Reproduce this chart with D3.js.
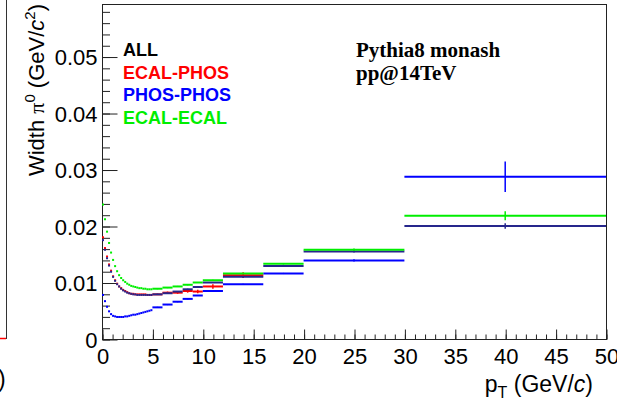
<!DOCTYPE html>
<html lang="en">

<head>
    <meta charset="UTF-8">
    <style>
        body {
            margin: 0;
            background: #fff;
        }

        text {
            font-family: "Liberation Sans", Arial, sans-serif;
        }
    </style>
    <script src="https://cdnjs.cloudflare.com/ajax/libs/d3/7.8.5/d3.min.js"></script>
    <title>pi0 width vs pT</title>
</head>

<body>
    <div id="chart"></div>
    <script>
        // bin edges in pT (GeV/c): 0.2 GeV up to 5, then coarser
        var binEdges = [0, 0.2, 0.4, 0.6, 0.8, 1, 1.2, 1.4, 1.6, 1.8, 2, 2.2, 2.4, 2.6, 2.8, 3,
            3.2, 3.4, 3.6, 3.8, 4, 4.2, 4.4, 4.6, 4.8, 5, 6, 7, 8, 9, 10, 12, 16, 20, 30, 50];

        var seriesNames = ['ALL', 'ECAL-PHOS', 'PHOS-PHOS', 'ECAL-ECAL'];

        // peak width (GeV/c^2) per bin
        var widthAll = [0.0175, 0.0158, 0.0143, 0.0130, 0.0119, 0.0110, 0.0103, 0.0097, 0.0093, 0.0089,
            0.0086, 0.0084, 0.0082, 0.0081, 0.0080, 0.0079, 0.0079, 0.0078, 0.0078, 0.0078,
            0.0078, 0.0078, 0.0078, 0.0078, 0.0078, 0.0079, 0.0081, 0.0084, 0.0088, 0.0092,
            0.0100, 0.0110, 0.0129, 0.0155, 0.0200];
        var widthEcalPhos = [0.0180, 0.0161, 0.0146, 0.0132, 0.0121, 0.0111, 0.0104, 0.0098, 0.0093, 0.0090,
            0.0087, 0.0085, 0.0083, 0.0081, 0.0080, 0.0080, 0.0079, 0.0079, 0.0079, 0.0079,
            0.0079, 0.0079, 0.0078, 0.0078, 0.0078, 0.0079, 0.0082, 0.0082, 0.0085, 0.0084,
            0.0093, 0.0113, null, null, null];
        var widthPhosPhos = [0.0078, 0.0067, 0.0057, 0.0049, 0.0044, 0.0041, 0.0040, 0.0039, 0.0039, 0.0039,
            0.0039, 0.0040, 0.0040, 0.0041, 0.0042, 0.0043, 0.0043, 0.0044, 0.0045, 0.0046,
            0.0047, 0.0048, 0.0049, 0.0050, 0.0051, 0.0056, 0.0061, 0.0066, 0.0071, 0.0077,
            0.0085, 0.0097, 0.0116, 0.0139, 0.0287];
        var widthEcalEcal = [0.0238, 0.0212, 0.0190, 0.0170, 0.0153, 0.0140, 0.0129, 0.0120, 0.0113, 0.0108,
            0.0104, 0.0101, 0.0098, 0.0096, 0.0094, 0.0093, 0.0092, 0.0091, 0.0090, 0.0090,
            0.0089, 0.0089, 0.0088, 0.0088, 0.0088, 0.0089, 0.0091, 0.0093, 0.0096, 0.0100,
            0.0104, 0.0116, 0.0133, 0.0158, 0.0218];

        // statistical errors, only the coarse bins are visible
        var errAll = [0, 0, 0, 0, 0, 0, 0, 0, 0, 0, 0, 0, 0, 0, 0, 0, 0, 0, 0, 0, 0, 0, 0, 0, 0,
            0.0001, 0.0001, 0.0001, 0.0001, 0.0001, 0.0001, 0.0001, 0.0001, 0.0002, 0.0005];
        var errEcalPhos = [0, 0, 0, 0, 0, 0, 0, 0, 0, 0, 0, 0, 0, 0, 0, 0, 0, 0, 0, 0, 0, 0, 0, 0, 0,
            0.0001, 0.0002, 0.0002, 0.0003, 0.0003, 0.0004, 0.0005, 0, 0, 0];
        var errPhosPhos = [0, 0, 0, 0, 0, 0, 0, 0, 0, 0, 0, 0, 0, 0, 0, 0, 0, 0, 0, 0, 0, 0, 0, 0, 0,
            0.0001, 0.0001, 0.0001, 0.0001, 0.0001, 0.0001, 0.0001, 0.0001, 0.0002, 0.0027];
        var errEcalEcal = [0, 0, 0, 0, 0, 0, 0, 0, 0, 0, 0, 0, 0, 0, 0, 0, 0, 0, 0, 0, 0, 0, 0, 0, 0,
            0.0001, 0.0001, 0.0001, 0.0001, 0.0001, 0.0001, 0.0001, 0.0001, 0.0002, 0.0008];

        var seriesColours = ['#26268c', '#ff0000', '#0000ff', '#00ee00'];
        var legendColours = ['#000000', '#ff0000', '#0000ff', '#00ee00'];
        // ECAL-PHOS, PHOS-PHOS, ALL, ECAL-ECAL
        var drawOrder = [1, 2, 0, 3];

        var xMajor = [0, 5, 10, 15, 20, 25, 30, 35, 40, 45, 50];
        var yMajor = [0, 0.01, 0.02, 0.03, 0.04, 0.05];
        var yLabels = ['0', '0.01', '0.02', '0.03', '0.04', '0.05'];

        function drawChart() {
            var width = 617,
                height = 407,
                padLeft = 102,
                padRight = 606,
                padTop = 4,
                padBottom = 339;

            var x = d3.scaleLinear().domain([0, 50]).range([padLeft, padRight]);
            var y = d3.scaleLinear().domain([0, 0.0593]).range([padBottom, padTop]);

            var svg = d3.select('#chart')
                .append('svg')
                .attr('width', width)
                .attr('height', height);

            // neighbouring pad, only its edge shows
            svg.append('line')
                .attr('x1', 6.5).attr('x2', 6.5)
                .attr('y1', 0).attr('y2', padBottom)
                .attr('stroke', '#333');
            svg.append('line')
                .attr('x1', 0).attr('x2', 6)
                .attr('y1', padBottom - 0.5).attr('y2', padBottom - 0.5)
                .attr('stroke', '#ff0000')
                .attr('stroke-width', 1.5);
            svg.append('text')
                .attr('x', -2)
                .attr('y', 387)
                .style('font-size', '23px')
                .text(')');

            // frame
            svg.append('rect')
                .attr('x', padLeft + 0.5)
                .attr('y', padTop + 0.5)
                .attr('width', padRight - padLeft)
                .attr('height', padBottom - padTop)
                .attr('fill', 'none')
                .attr('stroke', '#222')
                .attr('stroke-width', 1);

            // minor ticks
            var xMinor = svg.append('g')
                .attr('transform', 'translate(0.5,' + (padBottom + 0.5) + ')')
                .call(d3.axisBottom(x).ticks(50).tickSize(-5).tickFormat(''));
            var yMinor = svg.append('g')
                .attr('transform', 'translate(' + (padLeft + 0.5) + ',0.5)')
                .call(d3.axisLeft(y).tickValues(d3.range(0, 0.0593, 0.002)).tickSize(-7.5).tickFormat(''));

            // major ticks and labels
            var xAxis = svg.append('g')
                .attr('transform', 'translate(0.5,' + (padBottom + 0.5) + ')')
                .call(d3.axisBottom(x).tickValues(xMajor).tickSize(-10).tickPadding(9));
            var yAxis = svg.append('g')
                .attr('transform', 'translate(' + (padLeft + 0.5) + ',0.5)')
                .call(d3.axisLeft(y).tickValues(yMajor).tickSize(-15).tickPadding(5)
                    .tickFormat(function (d, i) { return yLabels[i]; }));

            [xMinor, yMinor, xAxis, yAxis].forEach(function (a) {
                a.select('.domain').remove();
                a.selectAll('line').attr('stroke', '#222');
            });
            xAxis.selectAll('text')
                .style('font-family', '"Liberation Sans", Arial, sans-serif')
                .style('font-size', '22px')
                .attr('fill', '#000');
            yAxis.selectAll('text')
                .style('font-family', '"Liberation Sans", Arial, sans-serif')
                .style('font-size', '22px')
                .attr('fill', '#000')
                .attr('dy', '0.36em');

            // axis titles
            var xt = svg.append('text')
                .attr('x', 593)
                .attr('y', 392)
                .attr('text-anchor', 'end')
                .style('font-size', '23px');
            xt.append('tspan').text('p');
            xt.append('tspan').attr('dy', 6).style('font-size', '16px').text('T');
            xt.append('tspan').attr('dy', -6).text(' (GeV/');
            xt.append('tspan').style('font-style', 'italic').text('c');
            xt.append('tspan').text(')');

            var yt = svg.append('text')
                .attr('transform', 'translate(44,4) rotate(-90)')
                .attr('text-anchor', 'end')
                .style('font-size', '22px');
            yt.append('tspan').text('Width ');
            yt.append('tspan').style('font-family', '"Liberation Serif", serif').text('π');
            yt.append('tspan').attr('dy', -9).style('font-size', '15px').text('0');
            yt.append('tspan').attr('dy', 9).text(' (GeV/');
            yt.append('tspan').style('font-style', 'italic').text('c');
            yt.append('tspan').attr('dy', -9).style('font-size', '15px').text('2');
            yt.append('tspan').attr('dy', 9).text(')');

            // histograms with error bars
            var seriesValues = [widthAll, widthEcalPhos, widthPhosPhos, widthEcalEcal];
            var seriesErrors = [errAll, errEcalPhos, errPhosPhos, errEcalEcal];

            drawOrder.forEach(function (s) {
                var bins = [];
                seriesValues[s].forEach(function (v, i) {
                    if (v === null) return;
                    bins.push({ lo: binEdges[i], hi: binEdges[i + 1], v: v, e: seriesErrors[s][i] });
                });

                var g = svg.append('g')
                    .attr('class', 'hist')
                    .attr('stroke', seriesColours[s])
                    .attr('stroke-width', 2);

                g.selectAll('.bin')
                    .data(bins)
                    .enter()
                    .append('line')
                    .attr('x1', function (d) { return x(d.lo); })
                    .attr('x2', function (d) { return x(d.hi); })
                    .attr('y1', function (d) { return y(d.v); })
                    .attr('y2', function (d) { return y(d.v); });

                g.selectAll('.err')
                    .data(bins.filter(function (d) { return d.e > 0; }))
                    .enter()
                    .append('line')
                    .attr('stroke-width', 1.5)
                    .attr('x1', function (d) { return x((d.lo + d.hi) / 2); })
                    .attr('x2', function (d) { return x((d.lo + d.hi) / 2); })
                    .attr('y1', function (d) { return y(d.v - d.e); })
                    .attr('y2', function (d) { return y(d.v + d.e); });
            });

            // legend
            svg.append('g')
                .attr('transform', 'translate(123, 56)')
                .selectAll('text')
                .data(seriesNames)
                .enter()
                .append('text')
                .attr('y', function (d, i) { return i * 22.5; })
                .attr('fill', function (d, i) { return legendColours[i]; })
                .style('font-size', '18px')
                .style('font-weight', 'bold')
                .text(function (d) { return d; });

            // generator info
            svg.append('text')
                .attr('x', 356)
                .attr('y', 57)
                .style('font-family', '"Liberation Serif", "Times New Roman", serif')
                .style('font-weight', 'bold')
                .style('font-size', '21px')
                .text('Pythia8 monash');
            svg.append('text')
                .attr('x', 356)
                .attr('y', 80)
                .style('font-family', '"Liberation Serif", "Times New Roman", serif')
                .style('font-weight', 'bold')
                .style('font-size', '21px')
                .text('pp@14TeV');
        }
        drawChart();
    </script>
</body>

</html>
